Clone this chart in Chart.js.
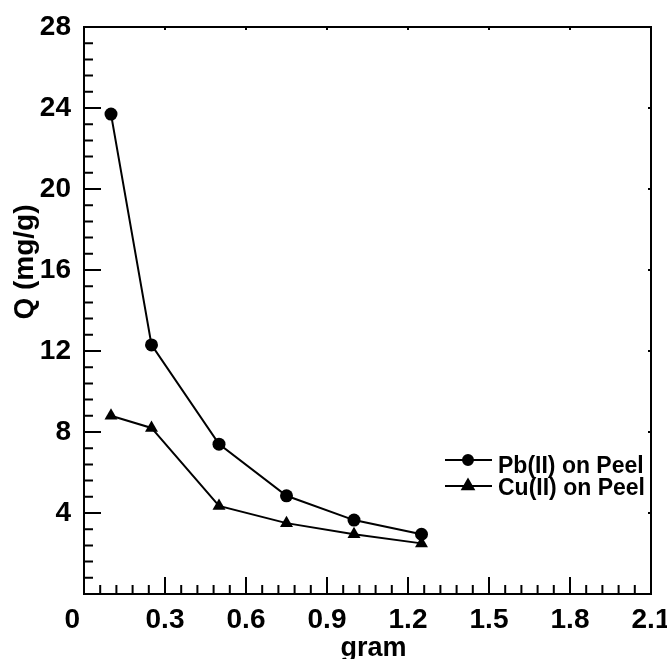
<!DOCTYPE html>
<html>
<head>
<meta charset="utf-8">
<script src="https://cdn.jsdelivr.net/npm/chart.js@4.4.0/dist/chart.umd.min.js"></script>
<style>
  html, body { margin: 0; padding: 0; background: #fff; }
</style>
</head>
<body>
<canvas id="chart" width="667" height="659"></canvas>
<script>
const doses = [0.1, 0.25, 0.5, 0.75, 1.0, 1.25];
const pbValues = [23.7, 12.3, 7.4, 4.85, 3.65, 2.95];
const cuValues = [8.8, 8.2, 4.35, 3.5, 2.95, 2.5];
const seriesNames = ['Pb(II) on Peel', 'Cu(II) on Peel'];
const xTicks = [0, 0.3, 0.6, 0.9, 1.2, 1.5, 1.8, 2.1];
const yTicks = [0, 4, 8, 12, 16, 20, 24, 28];
const xTitle = 'gram';
const yTitle = 'Q (mg/g)';

const FONT = '"Liberation Sans", Arial, sans-serif';

function toPoints(xs, ys) {
  return xs.map((x, i) => ({ x: x, y: ys[i] }));
}

// inward tick marks, frame, axis titles and legend
const framePlugin = {
  id: 'frame',
  afterDraw(chart) {
    const ctx = chart.ctx;
    const a = chart.chartArea;
    const xs = chart.scales.x;
    const ys = chart.scales.y;
    ctx.save();
    ctx.strokeStyle = '#000';
    ctx.lineWidth = 2;
    ctx.strokeRect(a.left, a.top, a.right - a.left, a.bottom - a.top);

    ctx.beginPath();
    xTicks.forEach((v, i) => {
      const px = xs.getPixelForValue(v);
      ctx.moveTo(px, a.bottom); ctx.lineTo(px, a.bottom - 17);
      ctx.moveTo(px, a.top); ctx.lineTo(px, a.top + 3);
      if (i < xTicks.length - 1) {
        const step = (xTicks[i + 1] - v) / 5;
        for (let k = 1; k < 5; k++) {
          const mx = xs.getPixelForValue(v + step * k);
          ctx.moveTo(mx, a.bottom); ctx.lineTo(mx, a.bottom - 9);
        }
      }
    });
    yTicks.forEach((v, i) => {
      const py = ys.getPixelForValue(v);
      ctx.moveTo(a.left, py); ctx.lineTo(a.left + 17, py);
      ctx.moveTo(a.right, py); ctx.lineTo(a.right - 3, py);
      if (i < yTicks.length - 1) {
        const step = (yTicks[i + 1] - v) / 5;
        for (let k = 1; k < 5; k++) {
          const my = ys.getPixelForValue(v + step * k);
          ctx.moveTo(a.left, my); ctx.lineTo(a.left + 9, my);
        }
      }
    });
    ctx.stroke();

    // axis titles
    ctx.fillStyle = '#000';
    ctx.font = 'bold 27px ' + FONT;
    ctx.textAlign = 'center';
    ctx.textBaseline = 'alphabetic';
    ctx.fillText(xTitle, (a.left + a.right) / 2 + 6, 656);

    ctx.save();
    ctx.translate(33, 262);
    ctx.rotate(-Math.PI / 2);
    ctx.font = 'bold 28px ' + FONT;
    ctx.fillText(yTitle, 0, 0);
    ctx.restore();

    // legend
    const rows = [
      { y: 460, ty: 467, r: 5 },
      { y: 486, ty: 489, r: 6.5 }
    ];
    chart.data.datasets.forEach((ds, i) => {
      const r = rows[i];
      ctx.beginPath();
      ctx.lineWidth = 2;
      ctx.moveTo(445, r.y);
      ctx.lineTo(492, r.y);
      ctx.stroke();
      Chart.helpers.drawPoint(ctx, {
        pointStyle: ds.pointStyle,
        radius: r.r,
        rotation: 0,
        borderWidth: 1
      }, 468, r.y);
      ctx.fillStyle = '#000';
      ctx.fill();
      ctx.font = 'bold 23px ' + FONT;
      ctx.textAlign = 'left';
      ctx.textBaseline = 'middle';
      ctx.fillText(ds.label, 498, r.ty);
    });
    ctx.restore();
  }
};

new Chart(document.getElementById('chart'), {
  type: 'scatter',
  data: {
    datasets: [
      {
        label: seriesNames[0],
        data: toPoints(doses, pbValues),
        showLine: true,
        borderColor: '#000',
        backgroundColor: '#000',
        borderWidth: 2,
        pointStyle: 'circle',
        pointRadius: 6.5,
        pointBorderWidth: 0
      },
      {
        label: seriesNames[1],
        data: toPoints(doses, cuValues),
        showLine: true,
        borderColor: '#000',
        backgroundColor: '#000',
        borderWidth: 2,
        pointStyle: 'triangle',
        pointRadius: 7.5,
        pointBorderWidth: 0
      }
    ]
  },
  options: {
    responsive: false,
    animation: false,
    layout: { padding: { top: 27, right: 16, left: 0, bottom: 0 } },
    plugins: {
      legend: { display: false },
      tooltip: { enabled: false }
    },
    scales: {
      x: {
        type: 'linear',
        min: 0,
        max: 2.1,
        afterBuildTicks: (s) => { s.ticks = xTicks.map(v => ({ value: v })); },
        afterFit: (s) => { s.height = 65; s.paddingLeft = 0; s.paddingRight = 0; },
        grid: { display: false, drawTicks: false },
        border: { display: false },
        ticks: {
          color: '#000',
          padding: 9,
          maxRotation: 0,
          autoSkip: false,
          font: { family: FONT, size: 28, weight: 'bold' },
          callback: (v) => v === 0 ? '0   ' : v.toFixed(1)
        }
      },
      y: {
        type: 'linear',
        min: 0,
        max: 28,
        afterBuildTicks: (s) => { s.ticks = yTicks.map(v => ({ value: v })); },
        afterFit: (s) => { s.width = 84; s.paddingTop = 0; s.paddingBottom = 0; },
        grid: { display: false, drawTicks: false },
        border: { display: false },
        ticks: {
          color: '#000',
          padding: 13,
          autoSkip: false,
          font: { family: FONT, size: 28, weight: 'bold' },
          callback: (v) => v === 0 ? '' : String(v)
        }
      }
    }
  },
  plugins: [framePlugin]
});
</script>
</body>
</html>
